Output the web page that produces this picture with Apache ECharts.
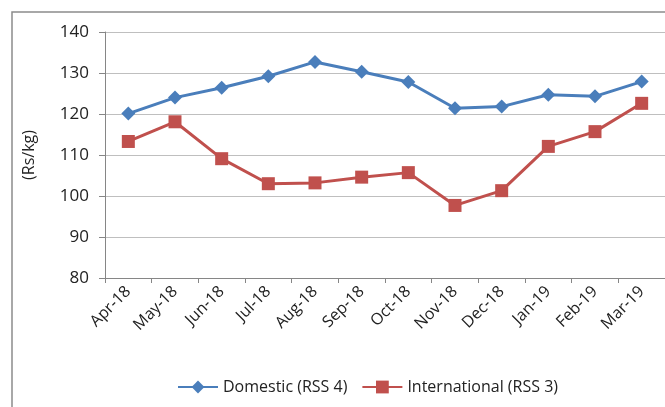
<!DOCTYPE html>
<html><head><meta charset="utf-8">
<script src="https://cdn.jsdelivr.net/npm/echarts@6/dist/echarts.min.js"></script>
<style>html,body{margin:0;padding:0;background:#fff}#c{width:665px;height:407px}</style>
</head><body><div id="c"></div>
<script>
var categories = ['Apr-18','May-18','Jun-18','Jul-18','Aug-18','Sep-18','Oct-18','Nov-18','Dec-18','Jan-19','Feb-19','Mar-19'];
var domestic = [120.1,124.0,126.4,129.2,132.7,130.3,127.8,121.4,121.8,124.7,124.3,127.9];
var international = [113.3,118.1,109.1,103.0,103.2,104.6,105.7,97.7,101.3,112.1,115.7,122.6];
var yTicks = {min:80,max:140,interval:10};
var font = '"Open Sans", "Liberation Sans", sans-serif';
var chart = echarts.init(document.getElementById('c'));
chart.setOption({
  animation:false,
  backgroundColor:'#fff',
  graphic:[{type:'rect',shape:{x:12,y:12,width:800,height:600},style:{fill:'none',stroke:'#8c8c8c',lineWidth:1.5}}],
  grid:{left:105,top:32,width:561,height:246,containLabel:false},
  legend:{top:374,left:172,itemWidth:40,itemHeight:16,itemGap:14,
    textStyle:{fontFamily:font,fontSize:16,color:'#222'},
    data:['Domestic (RSS 4)','International (RSS 3)']},
  xAxis:{type:'category',data:categories,boundaryGap:true,
    axisLine:{lineStyle:{color:'#868686',width:1}},
    axisTick:{show:true,length:5,alignWithLabel:false,lineStyle:{color:'#868686'}},
    axisLabel:{rotate:45,margin:11,interval:0,fontFamily:font,fontSize:16,color:'#222'}},
  yAxis:{type:'value',min:yTicks.min,max:yTicks.max,interval:yTicks.interval,
    name:'(Rs/kg)',nameLocation:'middle',nameGap:68,nameRotate:90,
    nameTextStyle:{fontFamily:font,fontSize:16,color:'#222'},
    axisLine:{show:true,lineStyle:{color:'#868686'}},
    axisTick:{show:true,length:6,lineStyle:{color:'#868686'}},
    splitLine:{lineStyle:{color:'#bfbfbf',width:1}},
    axisLabel:{margin:16,fontFamily:font,fontSize:17,color:'#222'}},
  series:[
    {name:'Domestic (RSS 4)',type:'line',data:domestic,symbol:'diamond',symbolSize:14,
      lineStyle:{color:'#4a7ebb',width:3},itemStyle:{color:'#4a7ebb'}},
    {name:'International (RSS 3)',type:'line',data:international,symbol:'rect',symbolSize:13,
      lineStyle:{color:'#c0504d',width:3},itemStyle:{color:'#c0504d'}}
  ]
});
</script></body></html>
